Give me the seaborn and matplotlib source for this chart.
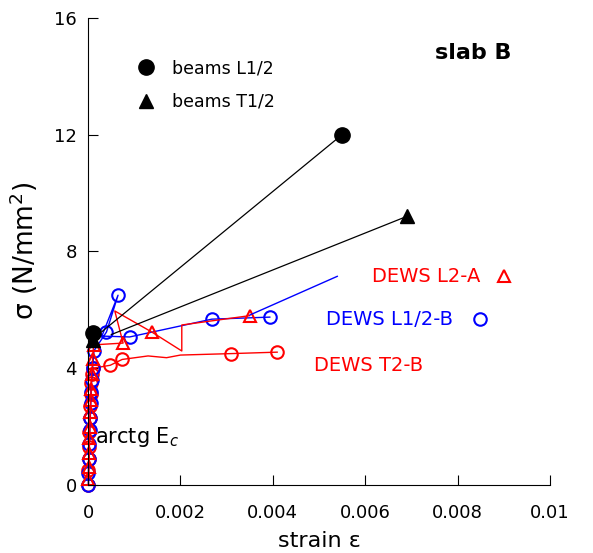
import numpy as np
import pandas as pd
import matplotlib
matplotlib.use("Agg")
import matplotlib.pyplot as plt
import seaborn as sns

# DEWS T2-B (red circles)
t2b_strain = [0.00001, 0.00001, 0.00002, 0.00002, 0.00003, 0.00004, 0.00005, 0.00006,
              0.00007, 0.00009, 0.00011, 0.00048, 0.00074, 0.0013, 0.0017, 0.0020, 0.0031, 0.0041]
t2b_stress = [0.0, 0.5, 0.9, 1.3, 1.8, 2.3, 2.7, 3.1, 3.5, 3.8, 4.0, 4.1, 4.3, 4.42, 4.36, 4.45, 4.5, 4.55]
t2b_marks = [0, 1, 2, 3, 4, 5, 6, 7, 8, 9, 10, 11, 12, 16, 17]

# DEWS L2-A (red triangles)
l2a_strain = [0.00001, 0.00002, 0.00003, 0.00003, 0.00004, 0.00005, 0.00006, 0.00007, 0.00008,
              0.0001, 0.00012, 0.00076, 0.00058, 0.00138, 0.00203, 0.00203, 0.0035]
l2a_stress = [0.2, 0.6, 1.1, 1.6, 2.0, 2.5, 2.9, 3.3, 3.8, 4.3, 4.8, 4.86, 5.96, 5.24, 4.59, 5.48, 5.8]
l2a_marks = [0, 1, 2, 3, 4, 5, 6, 7, 8, 9, 10, 11, 13, 16]

# DEWS L1/2-B (blue circles)
l12b_strain = [0.00001, 0.00001, 0.00002, 0.00003, 0.00004, 0.00005, 0.00006, 0.00007, 0.00008,
               0.0001, 0.00013, 0.0004, 0.00065, 0.0003, 0.0009, 0.00268, 0.00394]
l12b_stress = [0.0, 0.4, 0.9, 1.4, 1.9, 2.3, 2.8, 3.2, 3.6, 4.0, 4.6, 5.24, 6.5, 5.1, 5.07, 5.68, 5.75]
l12b_marks = [0, 1, 2, 3, 4, 5, 6, 7, 8, 9, 10, 11, 12, 14, 15, 16]
l12b_trend_strain = [0.0035, 0.0054]
l12b_trend_stress = [5.82, 7.15]

# beams
beam_l_strain = [0.0001, 0.0055]
beam_l_stress = [5.2, 12.0]
beam_l_line_strain = [0.0003, 0.0055]
beam_l_line_stress = [5.25, 12.0]
beam_t_strain = [0.0001, 0.0069]
beam_t_stress = [4.95, 9.2]
beam_t_line_strain = [0.0005, 0.0069]
beam_t_line_stress = [5.15, 9.2]

# label markers next to the DEWS labels
key_l2a = (0.0090, 7.15)
key_l12b = (0.00849, 5.68)

sns.set_style("ticks")
plt.rcParams["font.family"] = ["DejaVu Sans"]
for k in ["text.color", "axes.labelcolor", "xtick.color", "ytick.color", "axes.edgecolor"]:
    plt.rcParams[k] = "black"

fig = plt.figure(figsize=(5.93, 5.53), dpi=100)
ax = fig.add_axes([0.1484, 0.123, 0.7791, 0.8447])

hollow = dict(markerfacecolor="none", markeredgewidth=1.5, markersize=9, clip_on=False)

sns.lineplot(x=t2b_strain, y=t2b_stress, sort=False, estimator=None, ax=ax, color="red",
             lw=1, marker="o", markevery=t2b_marks, markeredgecolor="red", **hollow)
sns.lineplot(x=l12b_strain, y=l12b_stress, sort=False, estimator=None, ax=ax, color="blue",
             lw=1, marker="o", markevery=l12b_marks, markeredgecolor="blue", **hollow)
sns.lineplot(x=l2a_strain, y=l2a_stress, sort=False, estimator=None, ax=ax, color="red",
             lw=1, marker="^", markevery=l2a_marks, markeredgecolor="red", **hollow)
sns.lineplot(x=l12b_trend_strain, y=l12b_trend_stress, sort=False, estimator=None, ax=ax,
             color="blue", lw=1)

sns.lineplot(x=beam_l_line_strain, y=beam_l_line_stress, sort=False, estimator=None, ax=ax,
             color="black", lw=0.9)
sns.lineplot(x=beam_t_line_strain, y=beam_t_line_stress, sort=False, estimator=None, ax=ax,
             color="black", lw=0.9)
ax.plot(beam_l_strain, beam_l_stress, ls="none", marker="o", color="black", markersize=11,
        clip_on=False, label="beams L1/2")
ax.plot(beam_t_strain, beam_t_stress, ls="none", marker="^", color="black", markersize=10,
        clip_on=False, label="beams T1/2")

ax.plot(*key_l2a, ls="none", marker="^", markerfacecolor="none", markeredgecolor="red",
        markeredgewidth=1.5, markersize=8)
ax.plot(*key_l12b, ls="none", marker="o", markerfacecolor="none", markeredgecolor="blue",
        markeredgewidth=1.5, markersize=9)

ax.text(0.0085, 7.15, "DEWS L2-A", color="red", fontsize=14, ha="right", va="center")
ax.text(0.0079, 5.68, "DEWS L1/2-B", color="blue", fontsize=14, ha="right", va="center")
ax.text(0.0049, 4.1, "DEWS T2-B", color="red", fontsize=14, ha="left", va="center")
ax.text(0.0075, 14.8, "slab B", fontsize=16, fontweight="bold", ha="left", va="center")
ax.text(0.00015, 1.65, "arctg E$_c$", fontsize=15, ha="left", va="center")

ax.legend(loc="upper left", bbox_to_anchor=(0.07, 0.945), frameon=False, fontsize=12.5,
          handletextpad=0.9, labelspacing=0.9, handlelength=1.2)

ax.set_xlim(0, 0.01)
ax.set_ylim(0, 16)
ax.set_xticks([0, 0.002, 0.004, 0.006, 0.008, 0.01])
ax.set_xticklabels(["0", "0.002", "0.004", "0.006", "0.008", "0.01"])
ax.set_yticks([0, 4, 8, 12, 16])
ax.tick_params(direction="in", length=7, labelsize=13, pad=8)
ax.tick_params(axis="x", pad=14)
ax.set_xlabel("strain ε", fontsize=16, labelpad=6)
ax.set_ylabel("σ (N/mm$^2$)", fontsize=19, labelpad=10)
sns.despine(ax=ax)

fig.savefig("out.png", dpi=100)
